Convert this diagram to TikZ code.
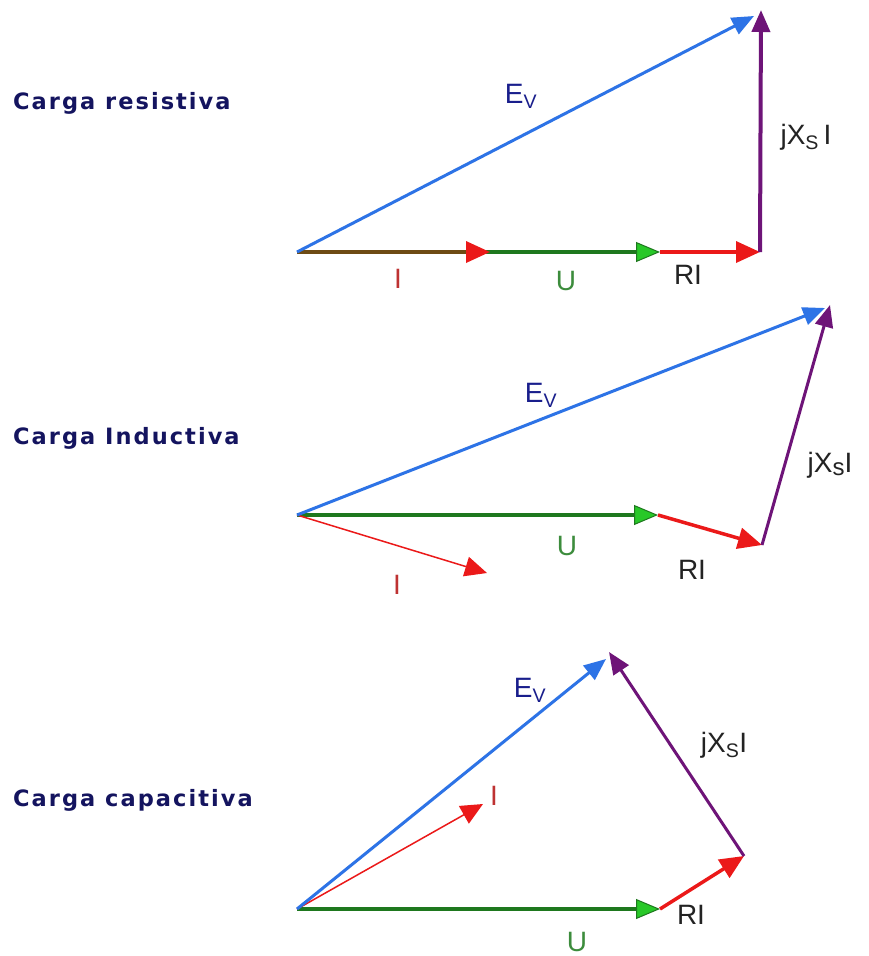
\documentclass[tikz,border=0pt]{standalone}
\usepackage{fontspec}
\setmainfont{Liberation Sans}
\newfontfamily\titlefont[LetterSpace=9]{DejaVu Sans Bold}
\usetikzlibrary{arrows.meta}
\definecolor{evblue}{RGB}{45,115,230}
\definecolor{evlabel}{RGB}{25,30,140}
\definecolor{ugreen}{RGB}{30,120,30}
\definecolor{uhead}{RGB}{40,200,40}
\definecolor{ulabel}{RGB}{60,140,60}
\definecolor{rred}{RGB}{235,25,25}
\definecolor{ilabel}{RGB}{190,50,50}
\definecolor{xpurple}{RGB}{110,20,120}
\definecolor{brownline}{RGB}{110,75,20}
\definecolor{titlecol}{RGB}{20,20,95}
\definecolor{txtgray}{RGB}{35,35,35}
\begin{document}
\begin{tikzpicture}[x=1pt,y=-1pt,
  title/.style={font=\titlefont\fontsize{22.5}{26}\selectfont, text=titlecol, anchor=west, inner sep=0pt},
  lbl/.style={font=\fontsize{28}{32}\selectfont, inner sep=0pt},
  evvec/.style={draw=evblue, line width=3pt, -{Triangle[length=22pt,width=18pt,fill=evblue]}},
  uvec/.style={draw=ugreen, line width=4pt, -{Triangle[length=24pt,width=20pt,fill=uhead,line width=1pt]}},
  rvec/.style={draw=rred, line width=3.5pt, -{Triangle[length=24pt,width=21pt,fill=rred]}},
  xvec/.style={draw=xpurple, line width=3.5pt, -{Triangle[length=22pt,width=18pt,fill=xpurple]}},
  ivec/.style={draw=rred, line width=1.5pt, -{Triangle[length=22pt,width=20pt,fill=rred,color=rred]}},
  ]
\useasboundingbox (0,0) rectangle (868,956);
\fill[white] (0,0) rectangle (868,956);

% ---------- Carga resistiva ----------
\node[title] (t1) at (13,103) {Carga resistiva};
\coordinate (O1) at (297,252);
\coordinate (I1) at (490,252);
\coordinate (U1) at (660,252);
\coordinate (R1) at (760,252);
\coordinate (X1) at (761,10);
\coordinate (E1) at (754,16);
\draw[uvec] (O1) -- (U1);
\draw[draw=brownline, line width=3.5pt, -{Triangle[length=24pt,width=21pt,fill=rred,color=rred]}] (O1) -- (I1);
\draw[rvec] (U1) -- (R1);
\draw[evvec] (O1) -- (E1);
\draw[xvec, line width=4pt] (R1) -- (X1);
\node[lbl, text=evlabel] (ev1) at (521,96) {E\textsubscript{V}};
\node[lbl, text=txtgray] (jx1) at (806,137) {jX\textsubscript{S}\,I};
\node[lbl, text=ilabel] (il1) at (398,279) {I};
\node[lbl, text=ulabel] (ul1) at (566,281) {U};
\node[lbl, text=txtgray] (rl1) at (688,275) {RI};

% ---------- Carga Inductiva ----------
\node[title] (t2) at (13,438) {Carga Inductiva};
\coordinate (O2) at (297,515);
\coordinate (U2) at (658,515);
\coordinate (R2) at (762,545);
\coordinate (X2) at (830,305);
\coordinate (E2) at (825,308);
\coordinate (I2) at (487,573);
\draw[uvec] (O2) -- (U2);
\draw[ivec] (O2) -- (I2);
\draw[rvec] (U2) -- (R2);
\draw[evvec] (O2) -- (E2);
\draw[xvec, line width=3pt] (R2) -- (X2);
\node[lbl, text=evlabel] (ev2) at (541,395) {E\textsubscript{V}};
\node[lbl, text=txtgray] (jx2) at (830,465) {jX\raisebox{-3pt}{\fontsize{24}{26}\selectfont s}I};
\node[lbl, text=ilabel] (il2) at (397,585) {I};
\node[lbl, text=ulabel] (ul2) at (567,546) {U};
\node[lbl, text=txtgray] (rl2) at (692,570) {RI};

% ---------- Carga capacitiva ----------
\node[title] (t3) at (13,800) {Carga capacitiva};
\coordinate (O3) at (297,909);
\coordinate (U3) at (660,909);
\coordinate (R3) at (744,856);
\coordinate (X3) at (609,652);
\coordinate (E3) at (606,659);
\coordinate (I3) at (483,804);
\draw[uvec] (O3) -- (U3);
\draw[ivec] (O3) -- (I3);
\draw[rvec] (U3) -- (R3);
\draw[evvec] (O3) -- (E3);
\draw[xvec, line width=3pt] (R3) -- (X3);
\node[lbl, text=evlabel] (ev3) at (530,690) {E\textsubscript{V}};
\node[lbl, text=txtgray] (jx3) at (724,745) {jX\textsubscript{S}I};
\node[lbl, text=ilabel] (il3) at (494,796) {I};
\node[lbl, text=txtgray] (rl3) at (691,915) {RI};
\node[lbl, text=ulabel] (ul3) at (577,942) {U};
\end{tikzpicture}
\end{document}
